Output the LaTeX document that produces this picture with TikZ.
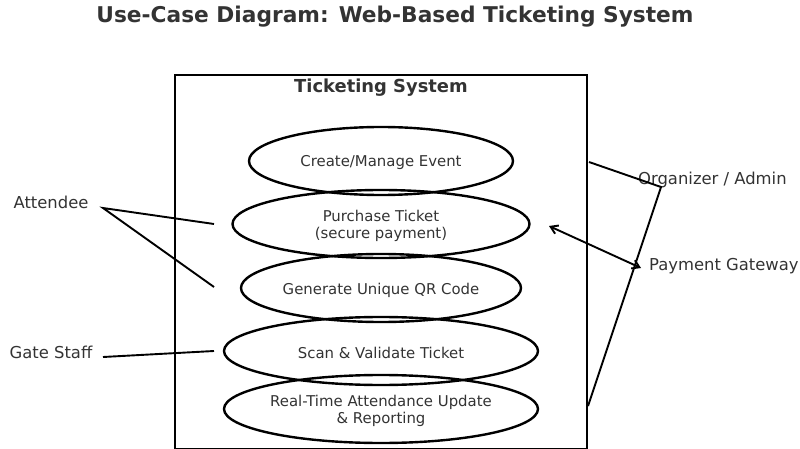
\documentclass[tikz,border=0pt]{standalone}
\usepackage{fontspec}
\setmainfont{DejaVu Sans}
\usetikzlibrary{shapes.geometric,arrows.meta}
\definecolor{txt}{HTML}{333333}
\tikzset{
  usecase/.style={draw=black, line width=2.4pt, ellipse, inner sep=0pt,
    minimum height=68pt, text=txt, font=\fontsize{14.9}{17}\selectfont, align=center},
  uclabel/.style={text=txt, font=\fontsize{14.9}{17}\selectfont, align=center, inner sep=0pt},
  actor/.style={text=txt, font=\fontsize{16.4}{19}\selectfont, inner sep=0pt},
  link/.style={draw=black, line width=1.9pt},
}
\begin{document}
\begin{tikzpicture}[x=1pt, y=-1pt]
\useasboundingbox (0,0) rectangle (800,449);

% title
\node[text=txt, font=\bfseries\fontsize{21.7}{25}\selectfont] (title) at (395,17) {Use-Case Diagram: Web-Based Ticketing System};

% system boundary
\draw[line width=2.6pt] (175,449.5) -- (175,75) -- (587,75) -- (587,449.5);
\draw[line width=1.5pt] (175,448.5) -- (587,448.5);
\node[text=txt, font=\bfseries\fontsize{17.9}{21}\selectfont] (sys) at (381,88) {Ticketing System};

% use cases (ellipses, labels set slightly low)
\node[usecase, minimum width=264pt] (uc1) at (381,161) {};
\node[usecase, minimum width=297pt] (uc2) at (381,224) {};
\node[usecase, minimum width=280pt] (uc3) at (381,288) {};
\node[usecase, minimum width=314pt] (uc4) at (381,351) {};
\node[usecase, minimum width=314pt] (uc5) at (381,409) {};
\node[uclabel] (t1) at ([yshift=-2pt]uc1.center) {Create/Manage Event};
\node[uclabel] (t2) at ([yshift=-2pt]uc2.center) {Purchase Ticket\\(secure payment)};
\node[uclabel] (t3) at ([yshift=-2pt]uc3.center) {Generate Unique QR Code};
\node[uclabel] (t4) at ([yshift=-2pt]uc4.center) {Scan \& Validate Ticket};
\node[uclabel] (t5) at ([yshift=-2pt]uc5.center) {Real-Time Attendance Update\\\& Reporting};

% actors
\node[actor] (attendee) at (51,202) {Attendee};
\node[actor] (gate) at (51,352) {Gate Staff};
\node[actor, anchor=west] (org) at (638,180) {Organizer / Admin};
\node[actor, anchor=west] (pay) at (649,266) {Payment Gateway};

% connector end points
\coordinate (aT) at (103,208);
\coordinate (gT) at (103,357);
\coordinate (oT) at (661,187);
\coordinate (a2) at (214,224);
\coordinate (a3) at (214,287);
\coordinate (g4) at (214,351);
\coordinate (o1) at (589,162);
\coordinate (o5) at (588,406);
\coordinate (p2) at (549,226);
\coordinate (pG) at (641,268);

% associations
\draw[link] (a2) -- (aT) -- (a3);
\draw[link] (gT) -- (g4);
\draw[link] (o1) -- (oT) -- (o5);
\draw[link, {Straight Barb[length=7pt,width=9pt]}-{Straight Barb[length=7pt,width=9pt]}] (p2) -- (pG);
\end{tikzpicture}
\end{document}
